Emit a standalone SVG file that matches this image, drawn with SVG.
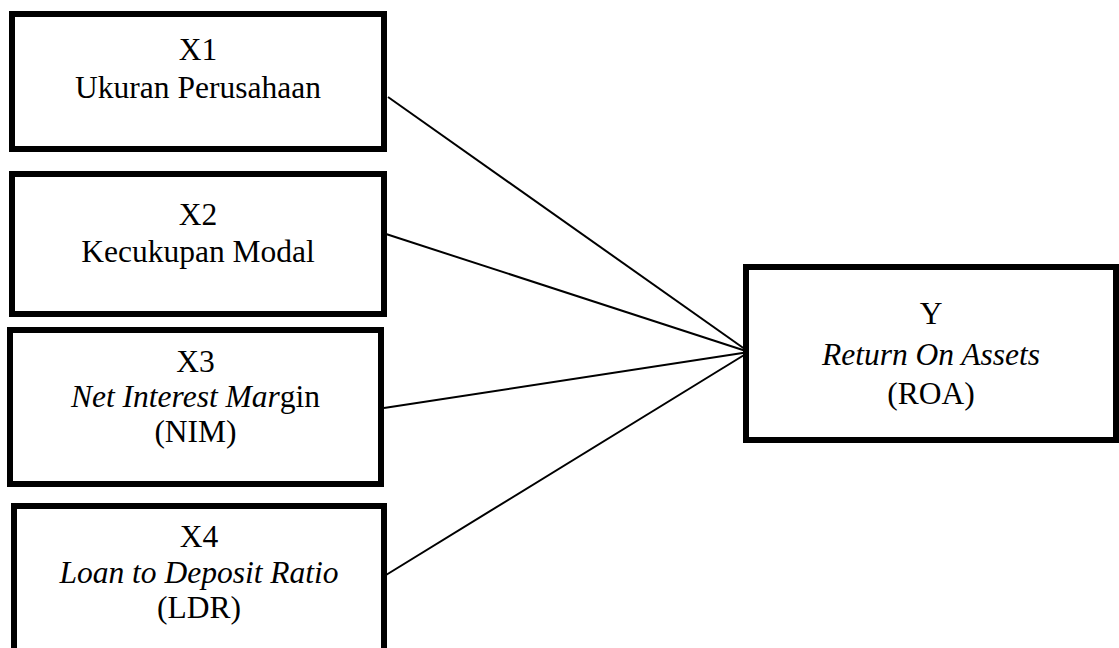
<svg xmlns="http://www.w3.org/2000/svg" width="1119" height="648" viewBox="0 0 1119 648">
<style>
.box{fill:#fff;stroke:#000;stroke-width:6}
.t{font-family:"Liberation Serif","Times New Roman",serif;font-size:31.5px;fill:#000;text-anchor:middle}
.i{font-style:italic}
.c{stroke:#000;stroke-width:2;fill:none}
</style>
<rect width="1119" height="648" fill="#fff"/>
<g id="connectors">
<line class="c" x1="388" y1="97" x2="749" y2="352"/>
<line class="c" x1="386" y1="234" x2="749" y2="352"/>
<line class="c" x1="384" y1="408" x2="749" y2="352"/>
<line class="c" x1="386" y1="575" x2="749" y2="352"/>
</g>
<g id="x1">
<rect class="box" x="12" y="14" width="372" height="135"/>
<text class="t" x="198" y="60">X1</text>
<text class="t" x="198" y="98">Ukuran Perusahaan</text>
</g>
<g id="x2">
<rect class="box" x="12" y="174" width="372" height="140"/>
<text class="t" x="198" y="225">X2</text>
<text class="t" x="198" y="262">Kecukupan Modal</text>
</g>
<g id="x3">
<rect class="box" x="10" y="330" width="371" height="154"/>
<text class="t" x="195.5" y="372">X3</text>
<text class="t" x="195.5" y="407"><tspan class="i">Net Interest Mar</tspan>gin</text>
<text class="t" x="195.5" y="442">(NIM)</text>
</g>
<g id="x4">
<rect class="box" x="14" y="506" width="370" height="160"/>
<text class="t" x="199" y="547">X4</text>
<text class="t i" x="199" y="583">Loan to Deposit Ratio</text>
<text class="t" x="199" y="618">(LDR)</text>
</g>
<g id="y">
<rect class="box" x="746" y="267" width="370" height="173"/>
<text class="t" x="931" y="324">Y</text>
<text class="t i" x="931" y="365">Return On Assets</text>
<text class="t" x="931" y="404">(ROA)</text>
</g>
</svg>
